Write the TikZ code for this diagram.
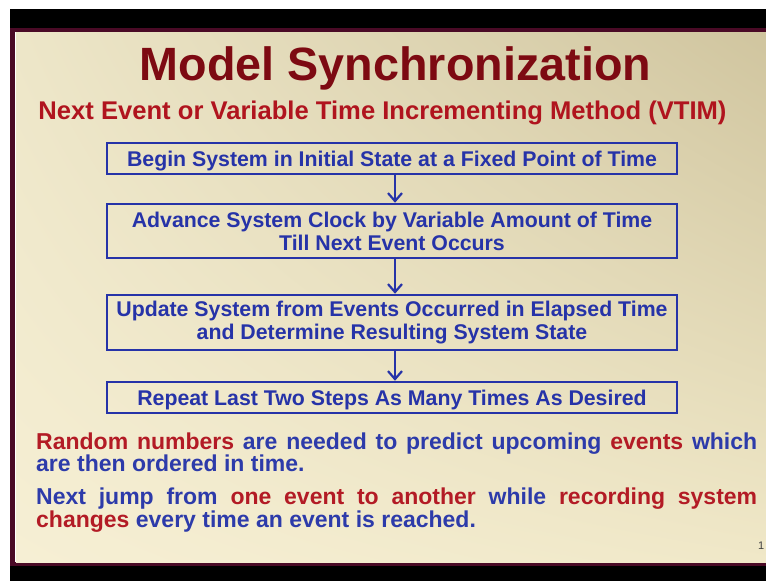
\documentclass[tikz,border=0pt]{standalone}
\usepackage{fontspec}
\setmainfont{Liberation Sans}
\usetikzlibrary{arrows.meta, shadings}
\definecolor{titlered}{HTML}{7D0A12}
\definecolor{subred}{HTML}{B0141E}
\definecolor{boxblue}{HTML}{2633A8}
\definecolor{noteblue}{HTML}{2D3BAA}
\definecolor{notered}{HTML}{B31B25}
\definecolor{frame}{HTML}{4A0A26}
\definecolor{creamUL}{HTML}{EDE6C8}
\definecolor{creamUR}{HTML}{D0C59F}
\definecolor{creamLL}{HTML}{F6EFD4}
\definecolor{creamLR}{HTML}{F0E8C8}
\begin{document}
\begin{tikzpicture}[x=1pt, y=-1pt,
    stepbox/.style={draw=boxblue, line width=2.5pt, minimum width=570pt,
                    inner sep=0pt, align=center, text=boxblue,
                    font=\fontsize{21.3}{23}\selectfont\bfseries},
    oneline/.style={stepbox, minimum height=31pt,
                    text height=15.5pt, text depth=0.5pt},
    flow/.style={draw=boxblue, line width=2.2pt,
                 -{Straight Barb[length=8pt, width=14pt]}},
    note/.style={anchor=base west, inner sep=0pt,
                 font=\fontsize{23}{24}\selectfont\bfseries}]
\useasboundingbox (0,0) rectangle (766,581);
\clip (0,0) rectangle (766,581);
% slide frame
\fill[white] (0,0) rectangle (766,581);
\fill[black] (10,9) rectangle (766,28);
\fill[black] (10,566) rectangle (766,581);
\fill[frame] (10,28) rectangle (766,32);
\fill[frame] (10,28) rectangle (15,566);
\fill[frame] (10,562) rectangle (766,566);
\shade[upper left=creamUL, upper right=creamUR,
       lower left=creamLL, lower right=creamLR]
  (16,32) rectangle (766,562);

% title
\node[anchor=base, text=titlered, font=\fontsize{46.7}{50}\selectfont\bfseries]
  (title) at (395.5,80) {Model Synchronization};
\node[anchor=base, text=subred, font=\fontsize{25.6}{28}\selectfont\bfseries]
  (method) at (382.5,119) {Next Event or Variable Time Incrementing Method (VTIM)};

% steps
\node[oneline] (begin) at (392,158.5)
  {Begin System in Initial State at a Fixed Point of Time};
\node[stepbox, minimum height=54pt] (advance) at (392,231)
  {Advance System Clock by Variable Amount of Time\\Till Next Event Occurs};
\node[stepbox, minimum height=55pt] (update) at (392,322.5)
  {Update System from Events Occurred in Elapsed Time\\and Determine Resulting System State};
\node[oneline] (repeat) at (392,397.5)
  {Repeat Last Two Steps As Many Times As Desired};

\draw[flow] ([xshift=3pt]begin.south) -- ([xshift=3pt]advance.north);
\draw[flow] ([xshift=3pt]advance.south) -- ([xshift=3pt]update.north);
\draw[flow] ([xshift=3pt]update.south) -- ([xshift=3pt]repeat.north);

% notes
\node[note] (rnd1) at (36,449) {\makebox[721pt][s]{\textcolor{notered}{Random numbers}
  \textcolor{noteblue}{are needed to predict upcoming} \textcolor{notered}{events}
  \textcolor{noteblue}{which}}};
\node[note, text=noteblue] (rnd2) at (36,471) {are then ordered in time.};
\node[note] (jmp1) at (36,504) {\makebox[721pt][s]{\textcolor{noteblue}{Next jump from}
  \textcolor{notered}{one event to another} \textcolor{noteblue}{while}
  \textcolor{notered}{recording system}}};
\node[note] (jmp2) at (36,527) {\textcolor{notered}{changes}
  \textcolor{noteblue}{every time an event is reached.}};

\node[anchor=base west, inner sep=0pt, text=black!75, font=\fontsize{11}{12}\selectfont]
  (pagenum) at (758,549) {1};
\end{tikzpicture}
\end{document}
